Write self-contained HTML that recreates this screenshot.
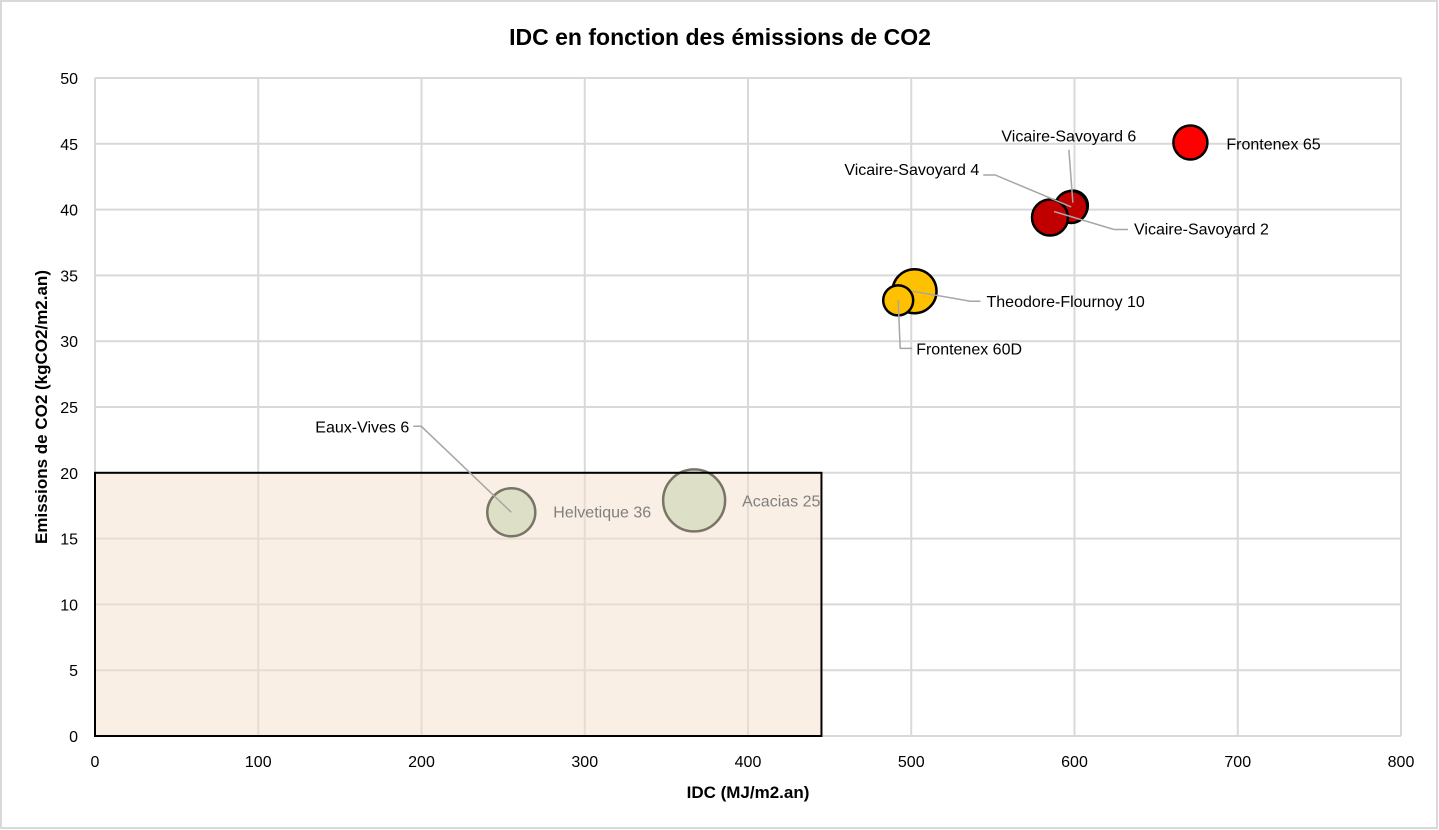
<!DOCTYPE html>
<html><head><meta charset="utf-8"><style>
body{margin:0;background:#fff;}
svg{display:block;font-family:"Liberation Sans",Calibri,sans-serif;}
</style></head><body>
<svg id="chart" width="1439" height="830">
<rect x="1" y="1" width="1436" height="827" fill="#fff" stroke="#d9d9d9" stroke-width="2"/>
<text x="720" y="45" text-anchor="middle" font-size="23" font-weight="bold" fill="#000">IDC en fonction des émissions de CO2</text>
<g id="grid"></g><g id="zone"></g><g id="bubbles"></g><g id="zoneBorder"></g><g id="labels"></g><g id="axes"></g>
<text x="748" y="798" text-anchor="middle" font-size="17" font-weight="bold">IDC (MJ/m2.an)</text>
<text transform="translate(47,407) rotate(-90)" text-anchor="middle" font-size="17" font-weight="bold">Emissions de CO2 (kgCO2/m2.an)</text>
</svg>
<script>
const names=["Frontenex 65","Vicaire-Savoyard 6","Vicaire-Savoyard 4","Vicaire-Savoyard 2","Theodore-Flournoy 10","Frontenex 60D","Eaux-Vives 6","Helvetique 36","Acacias 25"];
const idc=[671,599,598,585,502,492,255,255,367];
const co2=[45.1,40.3,40.2,39.4,33.8,33.1,17.0,17.0,17.9];
const sizes=[17,15,16,18,22,15,20,24,31];
const xTicks=[0,100,200,300,400,500,600,700,800];
const yTicks=[0,5,10,15,20,25,30,35,40,45,50];
const zoneIdc=445, zoneCo2=20;
const ns="http://www.w3.org/2000/svg";
const X=v=>95+v*(1401-95)/800, Y=v=>736-v*(736-78)/50;
function mk(p,t,a){const e=document.createElementNS(ns,t);for(const k in a)e.setAttribute(k,a[k]);p.appendChild(e);return e;}
const grid=document.getElementById('grid'),axes=document.getElementById('axes');
xTicks.forEach(t=>{const l=mk(grid,'line',{x1:X(t),x2:X(t),y1:Y(50),y2:Y(0),stroke:'#d9d9d9','stroke-width':2});


const tx=mk(axes,'text',{x:X(t),y:767,'text-anchor':'middle','font-size':16});tx.textContent=t;

});
yTicks.forEach(t=>{const l=mk(grid,'line',{x1:X(0),x2:X(800),y1:Y(t),y2:Y(t),stroke:'#d9d9d9','stroke-width':2});


const tx=mk(axes,'text',{x:78,y:Y(t)+6,'text-anchor':'end','font-size':16});tx.textContent=t;

});
const zone=mk(document.getElementById('zone'),'rect',{x:X(0),y:Y(zoneCo2),width:X(zoneIdc)-X(0),height:Y(0)-Y(zoneCo2),fill:'#f6e0cc','fill-opacity':0.5});


const zb=mk(document.getElementById('zoneBorder'),'rect',{x:X(0),y:Y(zoneCo2),width:X(zoneIdc)-X(0),height:Y(0)-Y(zoneCo2),fill:'none',stroke:'#000','stroke-width':2});


const fills=["#ff0000","#c00000","#c00000","#c00000","#ffc000","#ffc000","#dde0c6","#dde0c6","#dde0c6"];
const strokes=["#000","#000","#000","#000","#000","#000","#7a7468","#7a7468","#7a7468"];
const bg=document.getElementById('bubbles');
[4,5,1,2,3,0,6,7,8].forEach(i=>{const c=mk(bg,'circle',{cx:X(idc[i]),cy:Y(co2[i]),r:sizes[i],fill:fills[i],stroke:strokes[i],'stroke-width':2.5});

});
const lab=[{dx:36,dy:7,anchor:'start',line:null,col:'#000'},
{dx:-4,dy:-64,anchor:'middle',line:[[0,-3],[-4,-56]],col:'#000'},
{dx:-92,dy:-32,anchor:'end',line:[[0,0],[-76,-32],[-88,-32]]},
{dx:84,dy:17,anchor:'start',line:[[4,-6],[64,12],[78,12]]},
{dx:72,dy:16,anchor:'start',line:[[-2,0],[56,10],[66,10]]},
{dx:18,dy:54,anchor:'start',line:[[0,0],[2,48],[14,48]]},
{dx:-102,dy:-80,anchor:'end',line:[[0,0],[-90,-86],[-98,-86]]},
{dx:42,dy:5,anchor:'start',line:null,col:'#7f7f7f'},
{dx:48,dy:6,anchor:'start',line:null,col:'#7f7f7f'}];
const lg=document.getElementById('labels');
lab.forEach((L,i)=>{const px=X(idc[i]),py=Y(co2[i]);
if(L.line){const p=mk(lg,'polyline',{points:L.line.map(q=>(px+q[0])+','+(py+q[1])).join(' '),fill:'none',stroke:'#a6a6a6','stroke-width':1.5});

}
const t=mk(lg,'text',{x:px+L.dx,y:py+L.dy,'text-anchor':L.anchor,'font-size':16,fill:L.col||'#000'});t.textContent=names[i];

});
</script>
</body></html>
